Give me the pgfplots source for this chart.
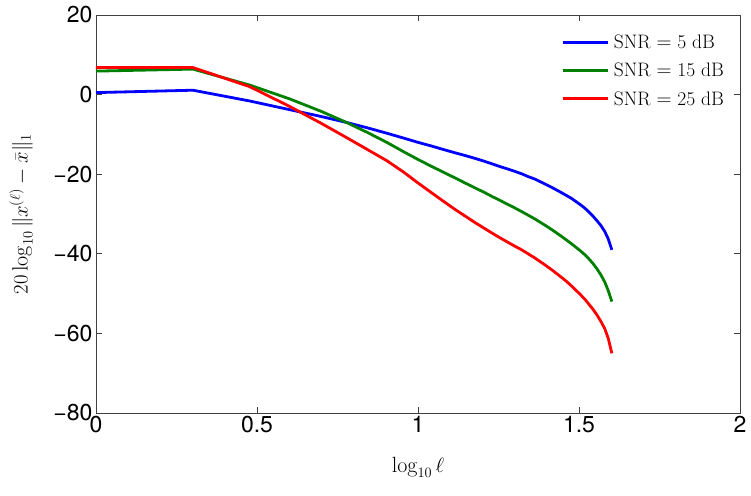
\documentclass[border=0pt]{standalone}
\usepackage{fontspec}
\usepackage{pgfplots}
\pgfplotsset{compat=1.18}
\newfontfamily\helv{TeX Gyre Heros}
\definecolor{mblue}{RGB}{0,0,255}
\definecolor{mgreen}{RGB}{0,128,0}
\definecolor{mred}{RGB}{255,0,0}

\begin{document}
\begin{tikzpicture}
\begin{axis}[
  name=ax,
  width=644pt, height=398pt, scale only axis,
  xmin=0, xmax=2, ymin=-80, ymax=20,
  xtick={0,0.5,1,1.5,2}, xticklabels={0,0.5,1,1.5,2},
  ytick={-80,-60,-40,-20,0,20}, yticklabels={−80,−60,−40,−20,0,20},
  tick label style={font=\fontsize{23}{26}\selectfont\helv},
  tick align=inside, major tick length=6pt,
  axis line style={line width=0.7pt, black!75},
  tick style={line width=0.7pt, black!75},
  xlabel={$\log_{10}\ell$},
  ylabel={$20\log_{10}\|x^{(\ell)}-\bar{x}\|_1$},
  label style={font=\fontsize{22}{26}\selectfont},
  xlabel style={at={(axis description cs:0.5,-0.136)}, anchor=center},
  ylabel style={at={(axis description cs:-0.1165,0.5)}, anchor=center},
  legend style={at={(0.983,0.96)}, anchor=north east, draw=none, fill=none,
    font=\fontsize{19.5}{23}\selectfont, row sep=9pt, cells={anchor=west}},
  legend image code/.code={\draw[#1, line width=3pt] (0pt,0pt) -- (45pt,0pt); \path (48pt,0pt);},
  every axis plot/.append style={line width=2.8pt},
]
% x = log10(l), l = 1..40
\addplot[mblue] table {
0.000 0.5
0.301 1.1
0.477 -1.6
0.602 -3.8
0.699 -5.5
0.778 -7.0
0.845 -8.4
0.903 -9.7
0.954 -10.9
1.000 -12.0
1.041 -12.9
1.079 -13.8
1.114 -14.6
1.146 -15.3
1.176 -16.0
1.204 -16.7
1.230 -17.4
1.255 -18.1
1.279 -18.7
1.301 -19.3
1.322 -19.9
1.342 -20.6
1.362 -21.2
1.380 -21.9
1.398 -22.6
1.415 -23.3
1.431 -24.0
1.447 -24.7
1.462 -25.4
1.477 -26.1
1.491 -26.9
1.505 -27.7
1.519 -28.6
1.531 -29.5
1.544 -30.6
1.556 -31.7
1.568 -32.9
1.580 -34.4
1.591 -36.3
1.602 -39.0
};
\addplot[mgreen] table {
0.000 5.9
0.301 6.4
0.477 2.4
0.602 -1.1
0.699 -4.2
0.778 -7.0
0.845 -9.6
0.903 -12.0
0.954 -14.3
1.000 -16.3
1.041 -18.0
1.079 -19.5
1.114 -20.9
1.146 -22.2
1.176 -23.4
1.204 -24.5
1.230 -25.6
1.255 -26.6
1.279 -27.6
1.301 -28.5
1.322 -29.4
1.342 -30.3
1.362 -31.2
1.380 -32.1
1.398 -33.0
1.415 -33.9
1.431 -34.8
1.447 -35.7
1.462 -36.6
1.477 -37.5
1.491 -38.4
1.505 -39.3
1.519 -40.3
1.531 -41.3
1.544 -42.5
1.556 -43.8
1.568 -45.3
1.580 -47.1
1.591 -49.3
1.602 -52.0
};
\addplot[mred] table {
0.000 6.8
0.301 6.8
0.477 2.0
0.602 -3.0
0.699 -7.2
0.778 -10.8
0.845 -13.9
0.903 -16.6
0.954 -19.4
1.000 -22.2
1.041 -24.6
1.079 -26.8
1.114 -28.8
1.146 -30.5
1.176 -32.1
1.204 -33.5
1.230 -34.8
1.255 -36.0
1.279 -37.1
1.301 -38.1
1.322 -39.0
1.342 -40.0
1.362 -41.0
1.380 -42.0
1.398 -43.0
1.415 -44.0
1.431 -45.0
1.447 -46.0
1.462 -47.0
1.477 -48.1
1.491 -49.2
1.505 -50.3
1.519 -51.5
1.531 -52.7
1.544 -54.0
1.556 -55.4
1.568 -57.0
1.580 -58.8
1.591 -61.3
1.602 -65.0
};
\legend{SNR $=$ 5 dB, SNR $=$ 15 dB, SNR $=$ 25 dB}
\end{axis}
\pgfresetboundingbox
\path ([shift={(-96pt,-83pt)}]ax.south west) rectangle ([shift={(11pt,15pt)}]ax.north east);
\end{tikzpicture}
\end{document}
